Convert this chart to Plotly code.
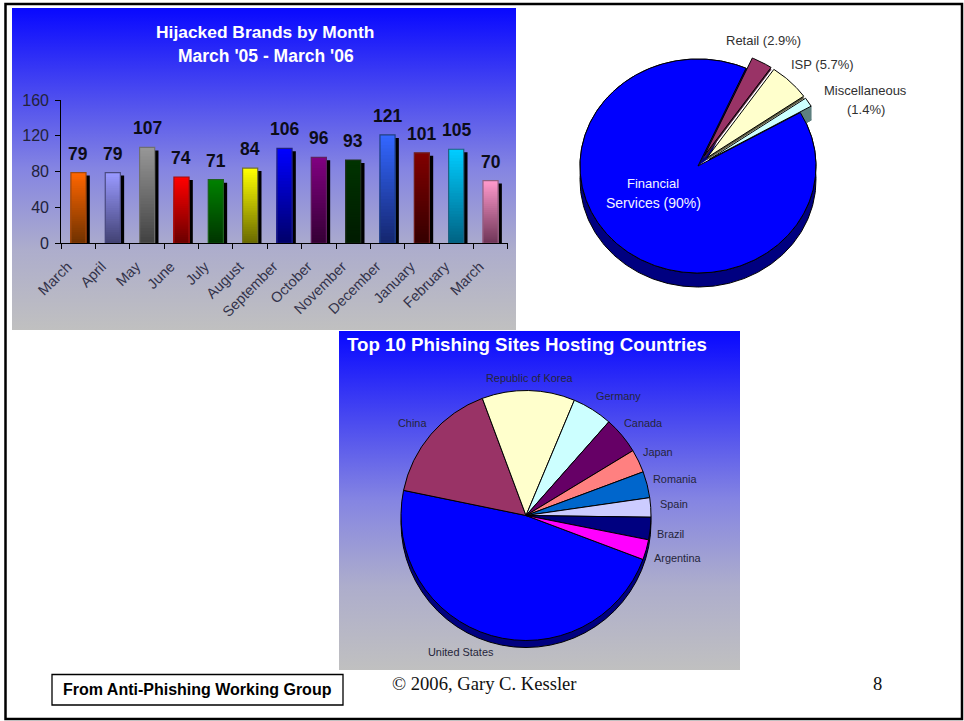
import base64
import numpy as np
import plotly.graph_objects as go

W, H = 964, 721

# Hijacked brands per month
months = ["March", "April", "May", "June", "July", "August", "September",
          "October", "November", "December", "January", "February", "March"]
brands = [79, 79, 107, 74, 71, 84, 106, 96, 93, 121, 101, 105, 70]
bar_top = ["#ff6600", "#9999ff", "#969696", "#ff0000", "#008000", "#ffff00", "#0000ff",
           "#800080", "#003300", "#3366ff", "#800000", "#00ccff", "#ff99cc"]
bar_bottom = ["#6b3000", "#404070", "#404040", "#660000", "#003300", "#666600", "#000066",
              "#330033", "#001a00", "#14256b", "#330000", "#006080", "#6b3355"]
bar_edge = ["#a04a10", "#4a4a80", "#707070", "#a01010", "#206020", "#707030", "#202080",
            "#602060", "#203020", "#204080", "#702020", "#206080", "#906080"]
y_ticks = [0, 40, 80, 120, 160]

# Share of hijacked brands by sector (percent)
sectors = ["Retail", "ISP", "Miscellaneous", "Financial Services"]
sector_share = [2.9, 5.7, 1.4, 90.0]
sector_colors = ["#993366", "#ffffcc", "#ccffff", "#0000ff"]
sector_walls = ["#4a1a33", "#55553a", "#5f8080", "#000080"]
sector_pull = [0.11, 0.11, 0.11, 0.0]

# Hosting countries (percent)
countries = ["United States", "China", "Republic of Korea", "Germany", "Canada", "Japan",
             "Romania", "Spain", "Brazil", "Argentina"]
country_share = [47.5, 16.1, 12.0, 5.2, 4.8, 3.0, 3.4, 2.5, 2.9, 2.6]
country_colors = ["#0000ff", "#993366", "#ffffcc", "#ccffff", "#660066", "#ff8080",
                  "#0066cc", "#ccccff", "#000080", "#ff00ff"]


def px(x):
    return x / W


def py(y):
    return 1 - y / H


def hex_rgb(c):
    return np.array([int(c[i:i + 2], 16) for i in (1, 3, 5)], dtype=float)


def mix(a, b, t):
    r, g, b_ = hex_rgb(a) * (1 - t) + hex_rgb(b) * t
    return f"rgb({r:.0f},{g:.0f},{b_:.0f})"


def gradient_panel(x0, y0, x1, y1):
    svg = ('<svg xmlns="http://www.w3.org/2000/svg" width="100" height="100" preserveAspectRatio="none">'
           '<defs><linearGradient id="g" x1="0" y1="0" x2="0" y2="1">'
           '<stop offset="0" stop-color="#0808ff"/><stop offset="0.5" stop-color="#8585e2"/>'
           '<stop offset="0.75" stop-color="#adadcc"/><stop offset="1" stop-color="#c0c0c0"/>'
           '</linearGradient></defs><rect width="100" height="100" fill="url(#g)"/></svg>')
    uri = "data:image/svg+xml;base64," + base64.b64encode(svg.encode()).decode()
    return dict(source=uri, xref="paper", yref="paper", x=px(x0), y=py(y0),
                sizex=px(x1 - x0), sizey=(y1 - y0) / H, xanchor="left", yanchor="top",
                sizing="stretch", layer="below")


fig = go.Figure()

# --- Column chart: shadows, then gradient columns built from shrinking overlays ---
x_pos = list(range(len(brands)))
fig.add_trace(go.Bar(x=x_pos, y=[v - 3.3 for v in brands], width=0.44, offset=-0.11,
                     marker=dict(color="#000000", line_width=0), hoverinfo="skip"))
levels = 32
for i in range(levels):
    t = i / levels
    fig.add_trace(go.Bar(x=x_pos, y=[v * (1 - t) for v in brands], width=0.44, offset=-0.22,
                         marker=dict(color=[mix(a, b, t) for a, b in zip(bar_top, bar_bottom)],
                                     line_width=0), hoverinfo="skip"))
fig.add_trace(go.Bar(x=x_pos, y=brands, width=0.44, offset=-0.22,
                     marker=dict(color="rgba(0,0,0,0)", line=dict(color=bar_edge, width=1.2)),
                     hoverinfo="skip"))

# --- Tilted sector pie: unit circle drawn on axes with unequal scales ---
RX, RY, DEPTH = 118, 107, 14 / 107


def wedge(a0, a1, ox=0.0, oy=0.0):
    t = np.radians(np.linspace(a0, a1, max(int(abs(a1 - a0)), 2) * 2))
    return ([ox] + list(np.sin(t) + ox) + [ox], [oy] + list(np.cos(t) + oy) + [oy])


def poly(x, y, fill, line="#000000", lw=1.0):
    fig.add_trace(go.Scatter(x=x, y=y, xaxis="x2", yaxis="y2", mode="lines", fill="toself",
                             fillcolor=fill, line=dict(color=line, width=lw), hoverinfo="skip"))


start = 24.0
angles = [start]
for s in sector_share:
    angles.append(angles[-1] + s * 3.6)

# Rim wall and cut face of the large slice
a0, a1 = angles[3], angles[4]
t = np.radians(np.linspace(a0, a1, 300))
poly(list(np.sin(t)) + list(np.sin(t[::-1])), list(np.cos(t)) + list(np.cos(t[::-1]) - DEPTH), sector_walls[3])
tail = np.radians(a1)
poly([0, np.sin(tail), np.sin(tail) + 0.03, 0.09], [0, np.cos(tail), np.cos(tail) - 0.02, 0.07],
     sector_walls[3], "#000040", 0.6)

# Pulled-out slices; the narrow one shows its full wall, the others only a thin lower edge
for i in (2, 1, 0):
    mid = np.radians((angles[i] + angles[i + 1]) / 2)
    ox, oy = sector_pull[i] * np.sin(mid), sector_pull[i] * np.cos(mid)
    if sectors[i] == "Miscellaneous":
        end = np.radians(angles[i + 1])
        ex, ey = np.sin(end) + ox, np.cos(end) + oy
        wx, wy = wedge(angles[i], angles[i + 1], ox, oy - DEPTH)
        poly(wx, wy, sector_walls[i], sector_walls[i], 0.8)
        poly([ox, ex, ex, ox], [oy, ey, ey - DEPTH, oy - DEPTH], sector_walls[i], sector_walls[i], 0.8)
    else:
        wx, wy = wedge(angles[i], angles[i + 1], ox, oy - 0.018)
        poly(wx, wy, sector_walls[i], sector_walls[i], 0.8)
    wx, wy = wedge(angles[i], angles[i + 1], ox, oy)
    poly(wx, wy, sector_colors[i])

wx, wy = wedge(a0, a1)
poly(wx, wy, sector_colors[3])

# --- Country pie with a darker copy behind it for the rim ---
CX, CY, R, RIM = 526, 515.5, 125, 7
fig.add_trace(go.Pie(values=[1], marker=dict(colors=["#000080"], line=dict(color="#000000", width=1)),
                     textinfo="none", hoverinfo="skip", sort=False,
                     domain=dict(x=[px(CX - R), px(CX + R)], y=[py(CY + RIM + R), py(CY + RIM - R)])))
fig.add_trace(go.Pie(labels=countries, values=country_share, sort=False, direction="clockwise",
                     rotation=110.6, textinfo="none", hoverinfo="label+percent",
                     marker=dict(colors=country_colors, line=dict(color="#000000", width=1)),
                     domain=dict(x=[px(CX - R), px(CX + R)], y=[py(CY + R), py(CY - R)])))

# --- Text placed at page positions ---
annotations = []


def note(x, y, text, size, color="#222233", bold=False, family="Liberation Sans"):
    annotations.append(dict(xref="paper", yref="paper", x=px(x), y=py(y), text=f"<b>{text}</b>" if bold else text,
                            showarrow=False, xanchor="center", yanchor="middle",
                            font=dict(family=family, size=size, color=color)))


note(265, 32.5, "Hijacked Brands by Month", 17.4, "#ffffff", True)
note(265.5, 56.5, "March '05 - March '06", 17.5, "#ffffff", True)
for i, v in enumerate(brands):
    annotations.append(dict(xref="x", yref="y", x=i, y=v, yshift=19, text=f"<b>{v}</b>", showarrow=False,
                            xanchor="center", yanchor="middle",
                            font=dict(family="Liberation Sans", size=17.5, color="#0c0c18")))

note(763, 41, "Retail (2.9%)", 13, "#303030")
note(822, 65, "ISP (5.7%)", 13, "#303030")
note(865.5, 90.5, "Miscellaneous", 13, "#303030")
note(866, 110, "(1.4%)", 13, "#303030")
note(653, 183, "Financial", 13, "#f4f4ff")
note(653, 202.5, "Services (90%)", 14, "#f4f4ff")

note(527, 344, "Top 10 Phishing Sites Hosting Countries", 18.7, "#ffffff", True)
country_labels = [("United States", 460.5, 652), ("China", 412, 423), ("Republic of Korea", 530, 378),
                  ("Germany", 618.5, 396), ("Canada", 643, 423), ("Japan", 658, 452), ("Romania", 675, 479),
                  ("Spain", 674, 504), ("Brazil", 670, 533.5), ("Argentina", 678, 558)]
for name, x, y in country_labels:
    note(x, y, name, 10.9, "#25253a")

note(197.5, 689.5, "From Anti-Phishing Working Group", 16, "#000000", True)
note(484.5, 683, "© 2006, Gary C. Kessler", 18.6, "#111111", family="Liberation Serif")
note(877.5, 683, "8", 18.6, "#111111", family="Liberation Serif")

shapes = [
    dict(type="rect", xref="paper", yref="paper", x0=px(5.5), x1=px(962), y0=py(4), y1=py(719),
         line=dict(color="#000000", width=2.5), layer="below"),
    dict(type="rect", xref="paper", yref="paper", x0=px(52), x1=px(343), y0=py(705), y1=py(674.5),
         line=dict(color="#000000", width=1.3), fillcolor="#ffffff"),
]

fig.update_layout(
    width=W, height=H, margin=dict(l=0, r=0, t=0, b=0, autoexpand=False), autosize=False,
    paper_bgcolor="#ffffff", plot_bgcolor="rgba(0,0,0,0)", showlegend=False, barmode="overlay",
    images=[gradient_panel(12, 8, 516, 330), gradient_panel(339, 331, 740, 670)],
    annotations=annotations, shapes=shapes,
    xaxis=dict(domain=[px(61.3), px(507.7)], range=[-0.5, 12.5], tickmode="array", tickvals=x_pos,
               ticktext=months, tickangle=-45, ticks="", showline=True, linecolor="#000000", linewidth=1.2,
               showgrid=False, zeroline=False, fixedrange=True, ticklabelstandoff=8, ticklabelshift=-11,
               tickfont=dict(family="Liberation Sans", size=14.5, color="#33334a"),
               minor=dict(tickmode="array", tickvals=[i - 0.5 for i in range(14)], ticks="outside",
                          ticklen=5, tickcolor="#000000", tickwidth=1, showgrid=False)),
    yaxis=dict(domain=[py(243.3), py(100)], range=[0, 160], tickmode="array", tickvals=y_ticks, ticks="outside",
               ticklen=5, tickcolor="#000000", showline=True, linecolor="#000000", linewidth=1.2,
               showgrid=False, zeroline=False, fixedrange=True, ticklabelstandoff=3,
               tickfont=dict(family="Liberation Sans", size=16, color="#22223a")),
    xaxis2=dict(domain=[px(698 - 1.5 * RX), px(698 + 1.5 * RX)], range=[-1.5, 1.5], visible=False,
                fixedrange=True, anchor="y2"),
    yaxis2=dict(domain=[py(166 + 1.5 * RY), py(166 - 1.5 * RY)], range=[-1.5, 1.5], visible=False,
                fixedrange=True, anchor="x2"),
)

fig.write_html("out.html")
